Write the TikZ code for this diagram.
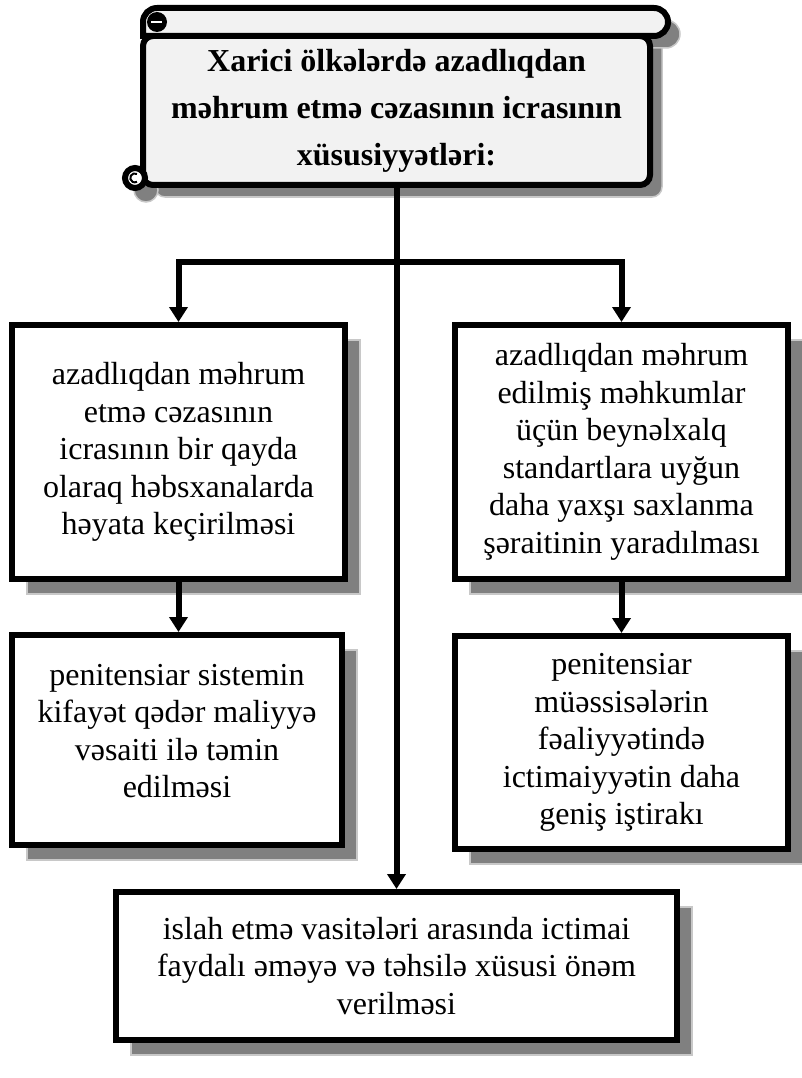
\documentclass[tikz,border=0pt]{standalone}
\usepackage{fontspec}
\setmainfont{Liberation Serif}
\usetikzlibrary{arrows.meta, positioning, calc, shadows}
\definecolor{kolge}{RGB}{128,128,128}
\definecolor{kolgekenar}{RGB}{200,200,200}
\definecolor{tomar}{RGB}{242,242,242}

\begin{document}
\begin{tikzpicture}[x=1pt, y=-1pt,
        every node/.style={font=\fontsize{32}{37.5}\selectfont},
        box/.style={rectangle, draw=black, line width=6pt, fill=white,
                    minimum width=333pt, align=center, inner sep=4pt,
                    drop shadow={shadow xshift=15pt, shadow yshift=-15pt, fill=kolge,
                                 draw=kolgekenar, line width=1.5pt, opacity=1}},
        tomarxett/.style={draw=black, line width=6pt, fill=tomar},
        kolgeyer/.style={fill=kolge, draw=kolgekenar, line width=1.5pt},
        arr/.style={-{Triangle[length=15pt,width=18pt]}, line width=6pt}
    ]
        \useasboundingbox (0,0) rectangle (801,1078);
        % tomarin kolgesi
        \draw[kolgeyer, rounded corners=10pt] (155,34) rectangle (662,197);
        \draw[kolgeyer, rounded corners=14pt] (155,20) rectangle (680,48);
        \draw[kolgeyer] (146,190) circle (12);
        % tomar
        \node[tomarxett, rounded corners=10pt, minimum width=507pt, minimum height=149pt,
              align=center, font=\bfseries\fontsize{32}{47}\selectfont] (basliq) at (396.5,110.5)
            {Xarici ölkələrdə azadlıqdan\\məhrum etmə cəzasının icrasının\\xüsusiyyətləri:};
        \draw[tomarxett] (143,36) -- (143,22) arc[start angle=180, end angle=270, radius=14]
            -- (654,8) arc[start angle=-90, end angle=90, radius=14] -- cycle;
        \fill (157,22) circle (10);
        \draw[white, line width=1.5pt] (151,22) -- (162,22);
        \draw[line width=6pt, fill=white] (135,178) circle (10);
        \draw[line width=2pt] (137,174) arc[start angle=-60, end angle=-300, radius=4.5];
        % qutular
        \node[box, minimum height=254pt] (sol1) at (178.5,452)
            {azadlıqdan məhrum\\etmə cəzasının\\icrasının bir qayda\\olaraq həbsxanalarda\\həyata keçirilməsi};
        \node[box, minimum height=254pt] (sag1) at (621.5,452)
            {azadlıqdan məhrum\\edilmiş məhkumlar\\üçün beynəlxalq\\standartlara uyğun\\daha yaxşı saxlanma\\şəraitinin yaradılması};
        \node[box, minimum width=330pt, minimum height=210pt, text depth=18pt] (sol2) at (177,740)
            {penitensiar sistemin\\kifayət qədər maliyyə\\vəsaiti ilə təmin\\edilməsi};
        \node[box, minimum height=213pt] (sag2) at (621.5,742.5)
            {penitensiar\\müəssisələrin\\fəaliyyətində\\ictimaiyyətin daha\\geniş iştirakı};
        \node[box, minimum width=561pt, minimum height=148pt] (alt) at (396.5,966)
            {islah etmə vasitələri arasında ictimai\\faydalı əməyə və təhsilə xüsusi önəm\\verilməsi};
        % oxlar
        \coordinate (ayrilma) at (396.5,262);
        \draw[arr] (basliq.south) -- (alt.north);
        \draw[arr] (ayrilma) -| (sol1.north);
        \draw[arr] (ayrilma) -| (sag1.north);
        \draw[arr] (sol1.south) -- (sol1.south |- sol2.north);
        \draw[arr] (sag1.south) -- (sag2.north);
    \end{tikzpicture}
\end{document}
